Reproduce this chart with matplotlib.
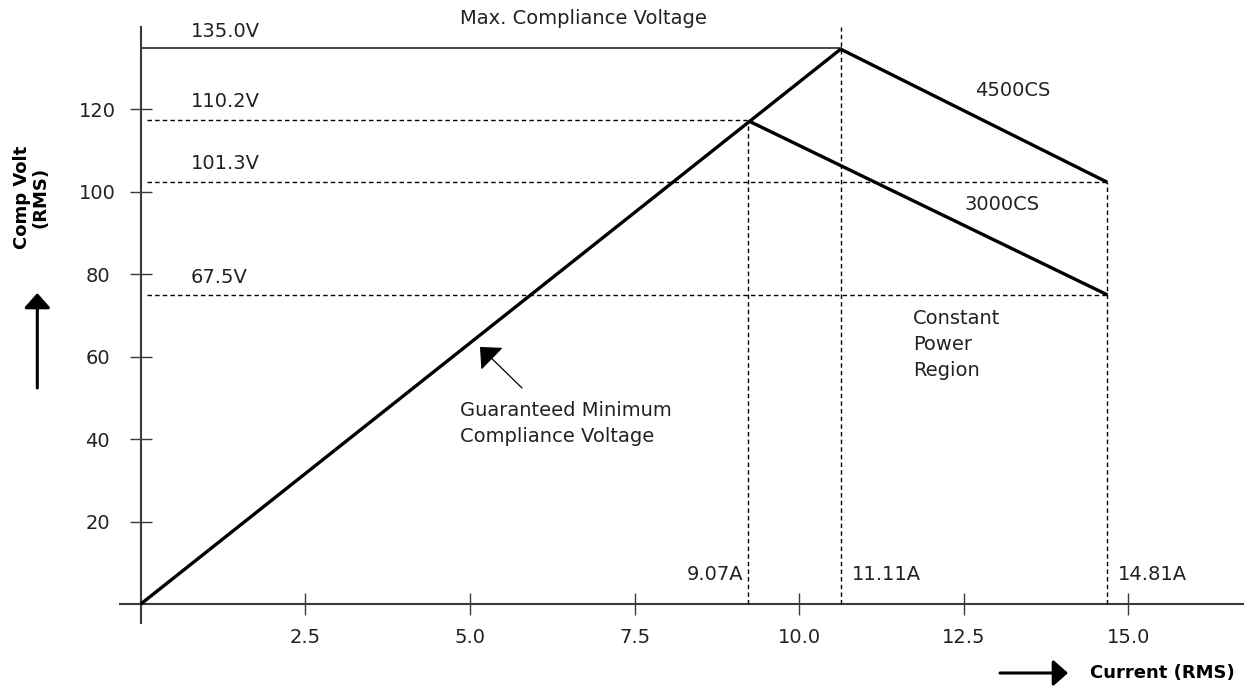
import matplotlib
matplotlib.use("Agg")
import matplotlib.pyplot as plt

plt.rcParams['font.family'] = ['DejaVu Sans']

# ---- data ----
min_line_x = [0.0, 10.63]          # guaranteed minimum compliance voltage (rising line)
min_line_y = [0.0, 134.6]
cs4500_x = [10.63, 14.68]
cs4500_y = [134.6, 102.3]
cs3000_x = [9.23, 14.68]
cs3000_y = [117.2, 75.0]
max_volt = 134.8
hlines_y = [117.3, 102.3, 75.0]     # dashed reference levels
hlines_xend = [9.23, 14.68, 14.68]
vlines_x = [9.23, 10.63, 14.68]
vlines_ytop = [117.2, 140.0, 102.3]
volt_labels = ["135.0V", "110.2V", "101.3V", "67.5V"]
volt_label_y = [139.0, 121.8, 106.8, 79.3]
amp_labels = ["9.07A", "11.11A", "14.81A"]
xticks = [2.5, 5.0, 7.5, 10.0, 12.5, 15.0]
xtick_labels = ["2.5", "5.0", "7.5", "10.0", "12.5", "15.0"]
yticks = [20, 40, 60, 80, 100, 120]

W, H = 1257, 694
fig = plt.figure(figsize=(W / 100, H / 100), dpi=100)
ax = fig.add_axes([0, 0, 1, 1])

# pixel mapping of the reference
x0px, xs = 140.7, 65.85
y0px, ys = 604.1, 4.123
ax.set_xlim((0 - x0px) / xs, (W - x0px) / xs)
ax.set_ylim((y0px - H) / ys, y0px / ys)

axc = '#3a3a3a'
fs = 14

for s in ['top', 'right']:
    ax.spines[s].set_visible(False)
for s in ['left', 'bottom']:
    ax.spines[s].set_position(('data', 0))
    ax.spines[s].set_color(axc)
    ax.spines[s].set_linewidth(1.5)
ax.spines['left'].set_bounds((y0px - 623) / ys, (y0px - 27) / ys)
ax.spines['bottom'].set_bounds((120 - x0px) / xs, (1243 - x0px) / xs)

ax.set_xticks(xticks)
ax.set_xticklabels(xtick_labels)
ax.set_yticks(yticks)
ax.tick_params(axis='both', direction='inout', length=16, width=1.0, color=axc,
               labelsize=fs, labelcolor='#222222')
ax.tick_params(axis='x', pad=9)
ax.tick_params(axis='y', pad=23)
for lab in ax.get_yticklabels():
    lab.set_horizontalalignment('center')

# lines
lw_main = 2.4
ax.plot(min_line_x, min_line_y, color='black', lw=lw_main, solid_capstyle='butt', zorder=5)
ax.plot(cs4500_x, cs4500_y, color='black', lw=lw_main, solid_capstyle='butt', zorder=5)
ax.plot(cs3000_x, cs3000_y, color='black', lw=lw_main, solid_capstyle='butt', zorder=5)
ax.plot([0, min_line_x[1]], [max_volt, max_volt], color=axc, lw=1.3, zorder=4)

dash = (0, (3.2, 2.3))
for yv, xe in zip(hlines_y, hlines_xend):
    ax.plot([0.09, xe], [yv, yv], color='black', lw=1.0, linestyle=dash, zorder=3)
for xv, yt in zip(vlines_x, vlines_ytop):
    ax.plot([xv, xv], [0, yt], color='black', lw=1.0, linestyle=dash, zorder=3)

tc = '#222222'
def px(xp):
    return (xp - x0px) / xs
def py(yp):
    return (y0px - yp) / ys

for lab, yv in zip(volt_labels, volt_label_y):
    ax.text(px(191), yv, lab, fontsize=fs, color=tc, ha='left', va='center')

ax.text(px(460), py(19), "Max. Compliance Voltage", fontsize=fs, color=tc, ha='left', va='center')
ax.text(px(975), py(91), "4500CS", fontsize=fs, color=tc, ha='left', va='center')
ax.text(px(965), py(205), "3000CS", fontsize=fs, color=tc, ha='left', va='center')
for t, yp in zip(["Constant", "Power", "Region"], [319, 345, 371]):
    ax.text(px(913), py(yp), t, fontsize=fs, color=tc, ha='left', va='center')
ax.text(px(460), py(410), "Guaranteed Minimum", fontsize=fs, color=tc, ha='left', va='center')
ax.text(px(460), py(437), "Compliance Voltage", fontsize=fs, color=tc, ha='left', va='center')

ax.text(px(743), py(575), amp_labels[0], fontsize=fs, color=tc, ha='right', va='center')
ax.text(px(852), py(575), amp_labels[1], fontsize=fs, color=tc, ha='left', va='center')
ax.text(px(1118), py(575), amp_labels[2], fontsize=fs, color=tc, ha='left', va='center')

# pointer arrow
ax.annotate('', xy=(px(480), py(347)), xytext=(px(522), py(388)),
            arrowprops=dict(arrowstyle='-|>,head_length=0.55,head_width=0.5',
                            lw=0.9, color='black', mutation_scale=20, shrinkA=0, shrinkB=0))

# axis titles with arrows
ax.text(px(31), py(197), "Comp Volt\n(RMS)", fontsize=13, fontweight='bold', rotation=90,
        ha='center', va='center', multialignment='center', linespacing=1.05, color='black')
ax.annotate('', xy=(px(37.3), py(293)), xytext=(px(37.3), py(388)),
            arrowprops=dict(arrowstyle='-|>,head_length=0.45,head_width=0.4',
                            lw=2.2, color='black', mutation_scale=20, shrinkA=0, shrinkB=0),
            annotation_clip=False)
ax.annotate('', xy=(px(1068), py(673)), xytext=(px(1000), py(673)),
            arrowprops=dict(arrowstyle='-|>,head_length=0.45,head_width=0.4',
                            lw=2.2, color='black', mutation_scale=20, shrinkA=0, shrinkB=0),
            annotation_clip=False)
ax.text(px(1090), py(673), "Current (RMS)", fontsize=13, fontweight='bold',
        ha='left', va='center', color='black')

fig.savefig("out.png", dpi=100)
